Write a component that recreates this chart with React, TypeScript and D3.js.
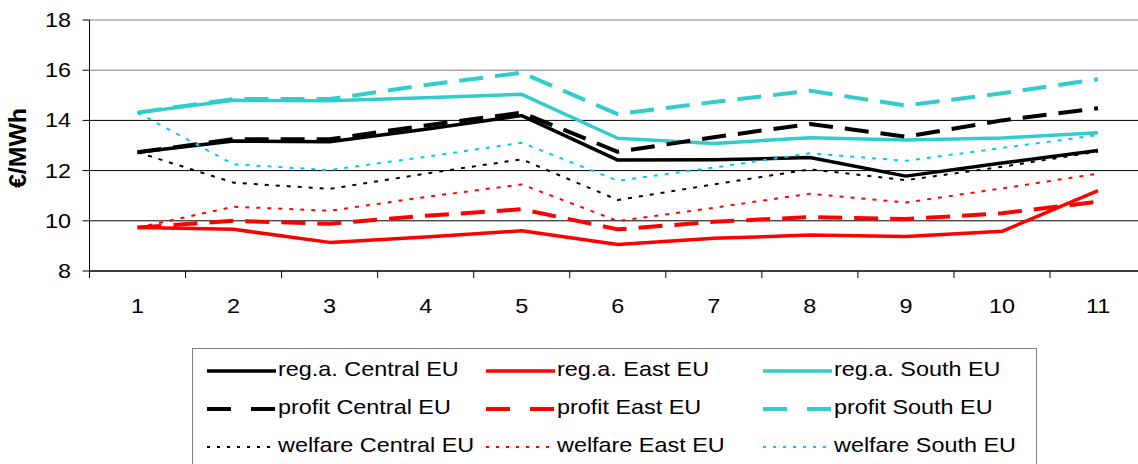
import React from "react";
import * as d3 from "d3";

const categories = ["1", "2", "3", "4", "5", "6", "7", "8", "9", "10", "11"];
const yTicks = [8, 10, 12, 14, 16, 18];

const regCentral = [12.73, 13.18, 13.15, 13.65, 14.19, 12.42, 12.43, 12.52, 11.78, 12.3, 12.8];
const regEast = [9.73, 9.66, 9.14, 9.35, 9.6, 9.06, 9.3, 9.43, 9.37, 9.58, 11.2];
const regSouth = [14.31, 14.8, 14.78, 14.9, 15.04, 13.29, 13.08, 13.31, 13.22, 13.3, 13.51];
const profitCentral = [12.73, 13.25, 13.25, 13.8, 14.31, 12.75, 13.33, 13.86, 13.35, 14.0, 14.48];
const profitEast = [9.73, 10.0, 9.88, 10.2, 10.46, 9.66, 9.96, 10.15, 10.07, 10.3, 10.76];
const profitSouth = [14.31, 14.85, 14.85, 15.41, 15.9, 14.25, 14.73, 15.18, 14.59, 15.08, 15.64];
const welfareCentral = [12.73, 11.52, 11.27, 11.88, 12.45, 10.83, 11.45, 12.05, 11.62, 12.15, 12.76];
const welfareEast = [9.73, 10.56, 10.4, 10.95, 11.45, 9.99, 10.52, 11.08, 10.73, 11.29, 11.88];
const welfareSouth = [14.31, 12.25, 12.02, 12.55, 13.11, 11.6, 12.12, 12.69, 12.39, 12.9, 13.42];

const CYAN = "#33CCCC";
const CYAN_DOT = "#00C8FF";
const RED = "#FF0000";
const BLACK = "#000000";

type Style = "solid" | "dash" | "dot";
const series: { name: string; values: number[]; color: string; style: Style }[] = [
  { name: "reg.a. Central EU", values: regCentral, color: BLACK, style: "solid" },
  { name: "reg.a. East EU", values: regEast, color: RED, style: "solid" },
  { name: "reg.a. South EU", values: regSouth, color: CYAN, style: "solid" },
  { name: "profit Central EU", values: profitCentral, color: BLACK, style: "dash" },
  { name: "profit East EU", values: profitEast, color: RED, style: "dash" },
  { name: "profit South EU", values: profitSouth, color: CYAN, style: "dash" },
  { name: "welfare Central EU", values: welfareCentral, color: BLACK, style: "dot" },
  { name: "welfare East EU", values: welfareEast, color: RED, style: "dot" },
  { name: "welfare South EU", values: welfareSouth, color: CYAN_DOT, style: "dot" },
];

const W = 1138;
const H = 464;
const left = 89.5;
const bandW = 96.05;
const top = 20;
const bottom = 271;
const SX = 1.17;
const FONT = "'Liberation Sans', Arial, sans-serif";

const strokeFor = (s: Style) =>
  s === "solid"
    ? { width: 3.5, dash: undefined as string | undefined }
    : s === "dash"
    ? { width: 4, dash: "24,12" }
    : { width: 2, dash: "4,7" };

export default function App() {
  const x = d3.scaleBand<string>().domain(categories).range([left, left + bandW * categories.length]);
  const y = d3.scaleLinear().domain([8, 18]).range([bottom, top]);
  const cx = (i: number) => (x(categories[i]) as number) + x.bandwidth() / 2;
  const line = d3
    .line<number>()
    .x((_, i) => cx(i))
    .y((d) => y(d));

  const legendCols = [207, 486, 763];
  const legendRows = [371, 409, 447];

  return (
    <svg
      width={W}
      height={H}
      style={{ position: "absolute", left: 0, top: 0, background: "#fff" }}
      fontFamily={FONT}
    >
      {/* gridlines */}
      {yTicks.map((t) => (
        <line key={"g" + t} x1={left} x2={W} y1={y(t)} y2={y(t)} stroke={t >= 16 ? "#808080" : "#000"} strokeWidth={1} />
      ))}
      {/* y axis */}
      <line x1={left} x2={left} y1={top} y2={bottom} stroke="#000" strokeWidth={1} />
      {yTicks.map((t) => (
        <g key={"yt" + t}>
          <line x1={left - 7} x2={left} y1={y(t)} y2={y(t)} stroke="#000" />
          <text transform={`translate(71,${y(t) + 7}) scale(${SX},1)`} textAnchor="end" fontSize={20} fill="#000">
            {t}
          </text>
        </g>
      ))}
      {/* x axis */}
      <line x1={left} x2={W} y1={bottom} y2={bottom} stroke="#000" />
      {categories.map((c, i) => (
        <g key={"xt" + c}>
          <line x1={x(c) as number} x2={x(c) as number} y1={bottom} y2={bottom + 7} stroke="#000" />
          <text transform={`translate(${cx(i)},313) scale(${SX},1)`} textAnchor="middle" fontSize={20} fill="#000">
            {c}
          </text>
        </g>
      ))}
      {/* y label */}
      <text
        transform={`translate(26,148) scale(${SX},1) rotate(-90)`}
        textAnchor="middle"
        fontSize={21}
        fontWeight="bold"
        fill="#000"
        textLength={80}
        lengthAdjust="spacingAndGlyphs"
      >
        €/MWh
      </text>
      {/* series */}
      {series.map((s) => {
        const st = strokeFor(s.style);
        return (
          <path
            key={s.name}
            d={line(s.values) as string}
            fill="none"
            stroke={s.color}
            strokeWidth={st.width}
            strokeDasharray={st.dash}
            strokeLinejoin="round"
          />
        );
      })}
      {/* legend */}
      <rect x={192.5} y={348.5} width={844} height={130} fill="#fff" stroke="#808080" strokeWidth={1} />
      {series.map((s, k) => {
        const col = k % 3;
        const row = Math.floor(k / 3);
        const lx = legendCols[col];
        const ly = legendRows[row];
        const st = strokeFor(s.style);
        const dash = s.style === "dash" ? "24,20" : s.style === "dot" ? "3,7" : undefined;
        return (
          <g key={"lg" + s.name}>
            <line x1={lx} x2={lx + 69} y1={ly} y2={ly} stroke={s.color} strokeWidth={st.width} strokeDasharray={dash} />
            <text transform={`translate(${lx + 71},${ly + 5}) scale(${SX},1)`} fontSize={20} fill="#000">
              {s.name}
            </text>
          </g>
        );
      })}
    </svg>
  );
}
